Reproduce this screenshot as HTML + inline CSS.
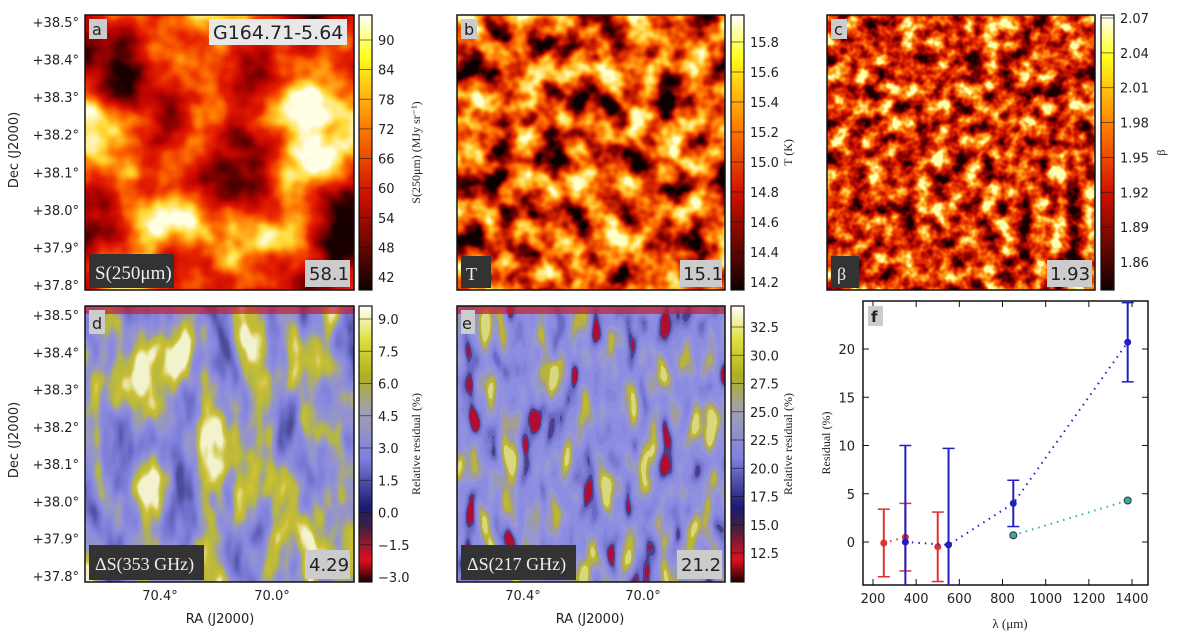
<!DOCTYPE html>
<html><head><meta charset="utf-8"><style>
body{margin:0;background:#fff;width:1200px;height:636px;overflow:hidden}
svg text{font-family:"DejaVu Sans","Liberation Sans",sans-serif;fill:#222}
.s{font-family:"Liberation Serif",serif}
filter{color-interpolation-filters:sRGB}
</style></head><body>
<svg id="fig" width="1200" height="636" viewBox="0 0 1200 636">
<defs>
<filter id="fa" x="0" y="0" width="100%" height="100%" color-interpolation-filters="sRGB"><feTurbulence type="fractalNoise" baseFrequency="0.011" numOctaves="4" seed="3"/>
<feColorMatrix type="matrix" values="2.0 0 0 0 -0.5  2.0 0 0 0 -0.5  2.0 0 0 0 -0.5  0 0 0 0 1"/>
<feComponentTransfer><feFuncR type="table" tableValues="0.1 0.45 0.75 0.9 1 1 1"/><feFuncG type="table" tableValues="0 0 0.02 0.12 0.45 0.85 1"/><feFuncB type="table" tableValues="0 0 0 0 0 0.2 0.9"/></feComponentTransfer></filter>
<filter id="fb" x="0" y="0" width="100%" height="100%" color-interpolation-filters="sRGB"><feTurbulence type="fractalNoise" baseFrequency="0.035" numOctaves="3" seed="7"/>
<feColorMatrix type="matrix" values="2.0 0 0 0 -0.5  2.0 0 0 0 -0.5  2.0 0 0 0 -0.5  0 0 0 0 1"/>
<feComponentTransfer><feFuncR type="table" tableValues="0.05 0.5 0.85 1 1 1"/><feFuncG type="table" tableValues="0 0 0.15 0.45 0.8 1"/><feFuncB type="table" tableValues="0 0 0 0 0.2 0.8"/></feComponentTransfer></filter>
<filter id="fc" x="0" y="0" width="100%" height="100%" color-interpolation-filters="sRGB"><feTurbulence type="fractalNoise" baseFrequency="0.06" numOctaves="3" seed="11"/>
<feColorMatrix type="matrix" values="2.0 0 0 0 -0.5  2.0 0 0 0 -0.5  2.0 0 0 0 -0.5  0 0 0 0 1"/>
<feComponentTransfer><feFuncR type="table" tableValues="0.1 0.5 0.8 0.95 1 1"/><feFuncG type="table" tableValues="0 0 0.08 0.3 0.65 1"/><feFuncB type="table" tableValues="0 0 0 0 0.1 0.7"/></feComponentTransfer></filter>
<filter id="fd" x="0" y="0" width="100%" height="100%" color-interpolation-filters="sRGB"><feTurbulence type="fractalNoise" baseFrequency="0.03 0.012" numOctaves="3" seed="5"/>
<feColorMatrix type="matrix" values="2.0 0 0 0 -0.45  2.0 0 0 0 -0.45  2.0 0 0 0 -0.45  0 0 0 0 1"/>
<feComponentTransfer><feFuncR type="table" tableValues="0.3 0.42 0.5 0.55 0.6 0.72 0.8 0.95"/><feFuncG type="table" tableValues="0.3 0.42 0.5 0.55 0.6 0.72 0.75 0.95"/><feFuncB type="table" tableValues="0.6 0.78 0.85 0.88 0.75 0.25 0.2 0.8"/></feComponentTransfer></filter>
<filter id="fe" x="0" y="0" width="100%" height="100%" color-interpolation-filters="sRGB"><feTurbulence type="fractalNoise" baseFrequency="0.05 0.02" numOctaves="2" seed="9"/>
<feColorMatrix type="matrix" values="1.9 0 0 0 -0.45  1.9 0 0 0 -0.45  1.9 0 0 0 -0.45  0 0 0 0 1"/>
<feComponentTransfer><feFuncR type="discrete" tableValues="0.7 0.3 0.42 0.48 0.52 0.55 0.55 0.57 0.6 0.6 0.65 0.72 0.75 0.85"/><feFuncG type="discrete" tableValues="0.05 0.25 0.42 0.48 0.52 0.55 0.55 0.57 0.6 0.6 0.62 0.7 0.72 0.85"/><feFuncB type="discrete" tableValues="0.2 0.55 0.78 0.83 0.86 0.88 0.88 0.88 0.82 0.7 0.55 0.25 0.2 0.5"/></feComponentTransfer></filter>
<linearGradient id="ghot" x1="0" y1="1" x2="0" y2="0"><stop offset="0" stop-color="#100000"/><stop offset="0.35" stop-color="#d01000"/><stop offset="0.6" stop-color="#ff8000"/><stop offset="0.85" stop-color="#ffff20"/><stop offset="1" stop-color="#ffffff"/></linearGradient>
<linearGradient id="gres" x1="0" y1="1" x2="0" y2="0"><stop offset="0" stop-color="#200000"/><stop offset="0.08" stop-color="#e01020"/><stop offset="0.2" stop-color="#402040"/><stop offset="0.27" stop-color="#1a1a70"/><stop offset="0.45" stop-color="#8080e0"/><stop offset="0.62" stop-color="#a0a0b0"/><stop offset="0.75" stop-color="#b0b020"/><stop offset="0.88" stop-color="#e0e040"/><stop offset="1" stop-color="#ffffff"/></linearGradient>
</defs>

<g>
<rect x="85" y="15" width="269" height="275" filter="url(#fa)"/>
<rect x="85" y="15" width="269" height="275" fill="none" stroke="#111" stroke-width="1.5"/>
<rect x="89" y="19" width="18" height="20" fill="#ccc"/><text x="92" y="35" font-size="16">a</text>
<rect x="209" y="19" width="138" height="26" fill="#e8e8e8"/><text x="213" y="39" font-size="19">G164.71-5.64</text>
<rect x="89" y="254" width="85" height="34" fill="#333"/><text x="95" y="279" font-size="19" class="s" style="fill:#eee">S(250μm)</text>
<rect x="305" y="260" width="45" height="27" fill="#ccc"/><text x="309" y="280" font-size="18">58.1</text>
</g>
<g>
<rect x="457" y="15" width="268" height="275" filter="url(#fb)"/>
<rect x="457" y="15" width="268" height="275" fill="none" stroke="#111" stroke-width="1.5"/>
<rect x="461" y="19" width="16" height="20" fill="#ccc"/><text x="464" y="35" font-size="16">b</text>
<rect x="461" y="256" width="30" height="32" fill="#333"/><text x="466" y="280" font-size="18" class="s" style="fill:#eee">T</text>
<rect x="680" y="260" width="42" height="27" fill="#ccc"/><text x="683" y="280" font-size="18">15.1</text>
</g>
<g>
<rect x="827" y="15" width="268" height="275" filter="url(#fc)"/>
<rect x="827" y="15" width="268" height="275" fill="none" stroke="#111" stroke-width="1.5"/>
<rect x="831" y="19" width="16" height="20" fill="#ccc"/><text x="834" y="35" font-size="16">c</text>
<rect x="831" y="256" width="28" height="32" fill="#333"/><text x="837" y="280" font-size="18" class="s" style="fill:#eee">β</text>
<rect x="1047" y="260" width="45" height="27" fill="#ccc"/><text x="1050" y="280" font-size="18">1.93</text>
</g>
<g>
<rect x="85" y="306" width="269" height="276" filter="url(#fd)"/>
<rect x="85" y="306" width="269" height="8" fill="#c02030" opacity="0.7"/>
<rect x="85" y="306" width="269" height="276" fill="none" stroke="#111" stroke-width="1.5"/>
<rect x="89" y="310" width="16" height="24" fill="#ccc"/><text x="92" y="329" font-size="16">d</text>
<rect x="89" y="545" width="115" height="35" fill="#333"/><text x="95" y="570" font-size="18" class="s" style="fill:#eee">ΔS(353 GHz)</text>
<rect x="305" y="550" width="45" height="29" fill="#ccc"/><text x="309" y="571" font-size="18">4.29</text>
</g>
<g>
<rect x="457" y="306" width="268" height="276" filter="url(#fe)"/>
<rect x="457" y="306" width="268" height="8" fill="#c02030" opacity="0.7"/>
<rect x="457" y="306" width="268" height="276" fill="none" stroke="#111" stroke-width="1.5"/>
<rect x="461" y="310" width="14" height="24" fill="#ccc"/><text x="462" y="329" font-size="16">e</text>
<rect x="461" y="545" width="115" height="35" fill="#333"/><text x="467" y="570" font-size="18" class="s" style="fill:#eee">ΔS(217 GHz)</text>
<rect x="677" y="550" width="45" height="29" fill="#ccc"/><text x="681" y="571" font-size="18">21.2</text>
</g>
<g id="axes-text"></g>
<g id="chart-f"></g>
</svg>
<script>
// Panel f data
const lamRed=[250,350,500];
const resRed=[-0.1,0.5,-0.5];
const errRed=[3.5,3.5,3.6];
const lamBlue=[350,550,850,1380];
const resBlue=[0.0,-0.3,4.0,20.7];
const errBlue=[10.0,10.0,2.4,4.1];
const lamCyan=[850,1380];
const resCyan=[0.7,4.3];
const xTicks=[200,400,600,800,1000,1200,1400];
const yTicks=[0,5,10,15,20];
// colorbar ticks
const cbA=["90","84","78","72","66","60","54","48","42"];
const cbB=["15.8","15.6","15.4","15.2","15.0","14.8","14.6","14.4","14.2"];
const cbC=["2.07","2.04","2.01","1.98","1.95","1.92","1.89","1.86"];
const cbD=["9.0","7.5","6.0","4.5","3.0","1.5","0.0","−1.5","−3.0"];
const cbE=["32.5","30.0","27.5","25.0","22.5","20.0","17.5","15.0","12.5"];
const decLabels=["+38.5°","+38.4°","+38.3°","+38.2°","+38.1°","+38.0°","+37.9°","+37.8°"];

const NS="http://www.w3.org/2000/svg";
function mk(tag,attrs,parent,txt){const e=document.createElementNS(NS,tag);for(const k in attrs)e.setAttribute(k,attrs[k]);if(txt!==undefined)e.textContent=txt;parent.appendChild(e);return e;}
const fig=document.getElementById('fig');
const at=document.getElementById('axes-text');

function colorbar(x,y0,h,top,bot,labels,grad,name,label,lx){
  const g=mk('g',{},fig);
  
  
  mk('rect',{x:x,y:y0,width:13,height:h,fill:'url(#'+grad+')',stroke:'#111','stroke-width':1.2},g);
  labels.forEach((l,i)=>{const y=top+(bot-top)*i/(labels.length-1);
    mk('line',{x1:x,x2:x+13,y1:y,y2:y,stroke:'#111','stroke-width':0.8,opacity:0.7},g);
    const t=mk('text',{x:x+19,y:y+5,'font-size':13},g,l);
    
    });
  const t=mk('text',{x:lx,y:y0+h/2,'font-size':12,'text-anchor':'middle',class:'s',transform:`rotate(-90 ${lx} ${y0+h/2})`,fill:'#555'},g,label);
  
  
}
colorbar(359,15,275,40,277,cbA,'ghot','colorbar-a','S(250μm) (MJy sr⁻¹)',420);
colorbar(731,15,275,42,282,cbB,'ghot','colorbar-b','T (K)',792);
colorbar(1101,15,275,18,262,cbC,'ghot','colorbar-c','β',1165);
colorbar(359,306,276,319,577,cbD,'gres','colorbar-d','Relative residual (%)',420);
colorbar(731,306,276,327,553,cbE,'gres','colorbar-e','Relative residual (%)',792);

function decAxis(top,bot){
  decLabels.forEach((l,i)=>{const y=top+(bot-top)*i/(decLabels.length-1);
    const t=mk('text',{x:79,y:y+5,'font-size':13,'text-anchor':'end'},at,l);
    
    });
}
decAxis(22,285);decAxis(315,576);
[150,440].forEach(cy=>{const t=mk('text',{x:18,y:cy,'font-size':13,'text-anchor':'middle',transform:`rotate(-90 18 ${cy})`},at,'Dec (J2000)');
  
  });
[[160,272,220],[523,643,590]].forEach(p=>{
  [['70.4°',p[0]],['70.0°',p[1]]].forEach(q=>{const t=mk('text',{x:q[1],y:600,'font-size':13,'text-anchor':'middle'},at,q[0]);
    
    });
  const t=mk('text',{x:p[2],y:623,'font-size':13,'text-anchor':'middle'},at,'RA (J2000)');
  
  
});

// chart f
const cf=document.getElementById('chart-f');
const L=863,R=1148,T=301,B=585;
const xs=v=>873+(v-200)*(1132-873)/1200;
const ys=v=>542-v*(542-349)/20;
mk('rect',{x:L,y:T,width:R-L,height:B-T,fill:'#fff',stroke:'#111','stroke-width':1.5},cf);
const clip=mk('clipPath',{id:'cpf'},cf);mk('rect',{x:L,y:T,width:R-L,height:B-T},clip);
xTicks.forEach(v=>{const x=xs(v);
  mk('line',{x1:x,x2:x,y1:B,y2:B-6,stroke:'#111'},cf);mk('line',{x1:x,x2:x,y1:T,y2:T+6,stroke:'#111'},cf);
  const t=mk('text',{x:x,y:B+18,'font-size':13,'text-anchor':'middle'},cf,v);
  
  });
yTicks.forEach(v=>{const y=ys(v);
  mk('line',{x1:L,x2:L+6,y1:y,y2:y,stroke:'#111'},cf);mk('line',{x1:R,x2:R-6,y1:y,y2:y,stroke:'#111'},cf);
  const t=mk('text',{x:L-8,y:y+5,'font-size':13,'text-anchor':'end'},cf,v);
  
  });
let t=mk('text',{x:1010,y:628,'font-size':13,'text-anchor':'middle',class:'s'},cf,'λ (μm)');


t=mk('text',{x:830,y:443,'font-size':12,'text-anchor':'middle',class:'s',fill:'#555',transform:'rotate(-90 830 443)'},cf,'Residual (%)');


const pg=mk('g',{'clip-path':'url(#cpf)'},cf);
function series(lx,ly,err,col,name,lineN){
  const g=mk('g',{},pg);
  
  
  const n=lineN===undefined?lx.length:lineN;
  mk('polyline',{points:lx.slice(0,n).map((v,i)=>xs(v)+','+ys(ly[i])).join(' '),fill:'none',stroke:col,'stroke-width':2,'stroke-dasharray':'1.5 5'},g);
  lx.forEach((v,i)=>{const x=xs(v),y=ys(ly[i]);
    if(err){const y1=ys(ly[i]+err[i]),y2=ys(ly[i]-err[i]);
      mk('line',{x1:x,x2:x,y1:y1,y2:y2,stroke:col,'stroke-width':2},g);
      mk('line',{x1:x-6,x2:x+6,y1:y1,y2:y1,stroke:col,'stroke-width':1.5},g);
      mk('line',{x1:x-6,x2:x+6,y1:y2,y2:y2,stroke:col,'stroke-width':1.5},g);}
    const c=mk('circle',{cx:x,cy:y,r:3.5,fill:col,stroke:'#333','stroke-width':err?0:1},g);
    
    });
}
series(lamRed,resRed,errRed,'#e03030','series-red',2);
series(lamBlue,resBlue,errBlue,'#2020c0','series-blue');
series(lamCyan,resCyan,null,'#30b0a0','series-cyan');
mk('rect',{x:868,y:306,width:15,height:20,fill:'#ccc'},cf);
t=mk('text',{x:871,y:322,'font-size':15,'font-weight':'bold'},cf,'f');


</script>
</body></html>
